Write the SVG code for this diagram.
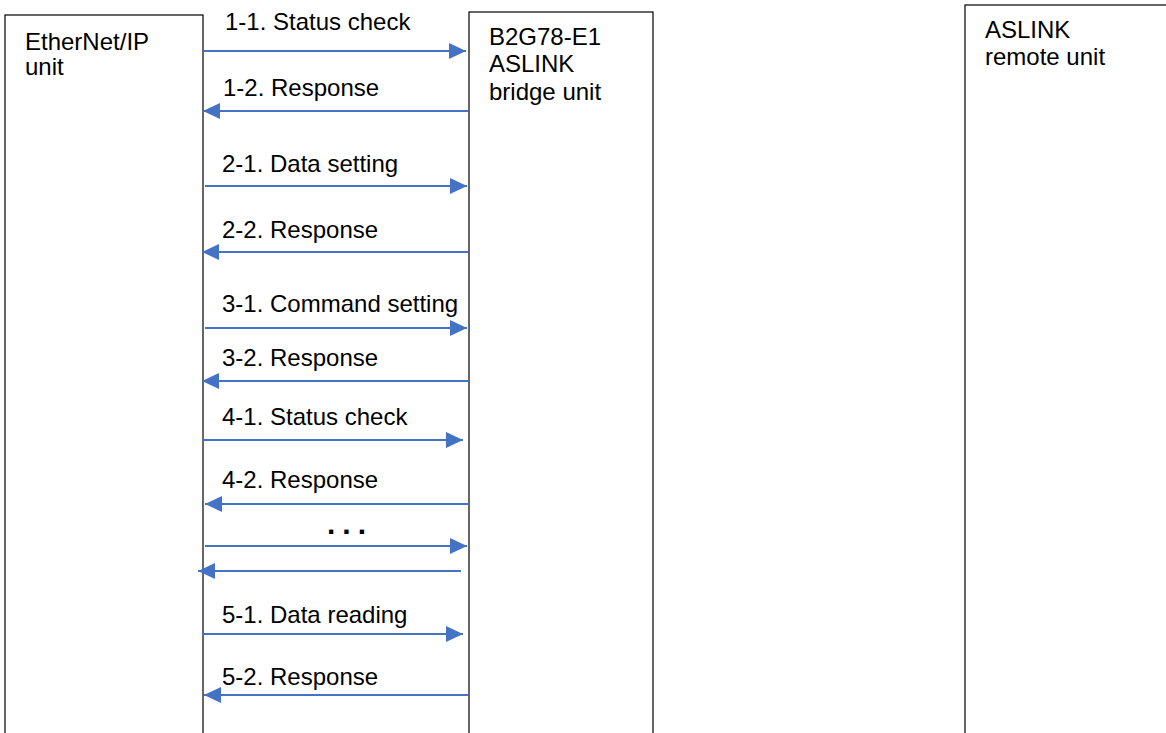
<svg xmlns="http://www.w3.org/2000/svg" width="1166" height="733" viewBox="0 0 1166 733">
<style>
.box{fill:#fff;stroke:#000;stroke-width:1.2}
.t{font-family:"Liberation Sans",Arial,sans-serif;font-size:24px;fill:#000}
.a{stroke:#4472C4;stroke-width:2;fill:none;marker-end:url(#ah)}
</style>
<defs>
<marker id="ah" markerUnits="userSpaceOnUse" markerWidth="18" markerHeight="16" viewBox="0 0 18 16" refX="17" refY="8" orient="auto">
<path d="M0,0 L17,8 L0,16 Z" fill="#4472C4"/>
</marker>
</defs>
<rect width="1166" height="733" fill="#fff"/>
<g id="ethernet">
<rect class="box" x="5" y="15" width="198" height="730"/>
<text class="t" x="25" y="50">EtherNet/IP</text>
<text class="t" x="25" y="75">unit</text>
</g>
<g id="bridge">
<rect class="box" x="469" y="12" width="184" height="730"/>
<text class="t" x="489" y="45">B2G78-E1</text>
<text class="t" x="489" y="72">ASLINK</text>
<text class="t" x="489" y="100">bridge unit</text>
</g>
<g id="remote">
<rect class="box" x="965" y="5" width="220" height="740"/>
<text class="t" x="985" y="38">ASLINK</text>
<text class="t" x="985" y="65">remote unit</text>
</g>
<g id="connectors">
<line class="a" x1="203" y1="51" x2="466" y2="51"/>
<line class="a" x1="468" y1="111" x2="203" y2="111"/>
<line class="a" x1="205" y1="186" x2="467" y2="186"/>
<line class="a" x1="468" y1="252" x2="202" y2="252"/>
<line class="a" x1="205" y1="328" x2="467" y2="328"/>
<line class="a" x1="469" y1="381" x2="202" y2="381"/>
<line class="a" x1="202" y1="440" x2="463" y2="440"/>
<line class="a" x1="469" y1="504" x2="205" y2="504"/>
<line class="a" x1="205" y1="546" x2="467" y2="546"/>
<line class="a" x1="461" y1="571" x2="198" y2="571"/>
<line class="a" x1="202" y1="634" x2="463" y2="634"/>
<line class="a" x1="468" y1="695" x2="204" y2="695"/>
</g>
<g id="labels">
<text class="t" x="225" y="30">1-1. Status check</text>
<text class="t" x="223" y="96">1-2. Response</text>
<text class="t" x="222" y="172">2-1. Data setting</text>
<text class="t" x="222" y="238">2-2. Response</text>
<text class="t" x="222" y="312">3-1. Command setting</text>
<text class="t" x="222" y="366">3-2. Response</text>
<text class="t" x="222" y="425">4-1. Status check</text>
<text class="t" x="222" y="488">4-2. Response</text>
<text class="t" x="327" y="534" style="font-weight:bold;font-size:30px;letter-spacing:7px">...</text>
<text class="t" x="222" y="623">5-1. Data reading</text>
<text class="t" x="222" y="685">5-2. Response</text>
</g>
</svg>
